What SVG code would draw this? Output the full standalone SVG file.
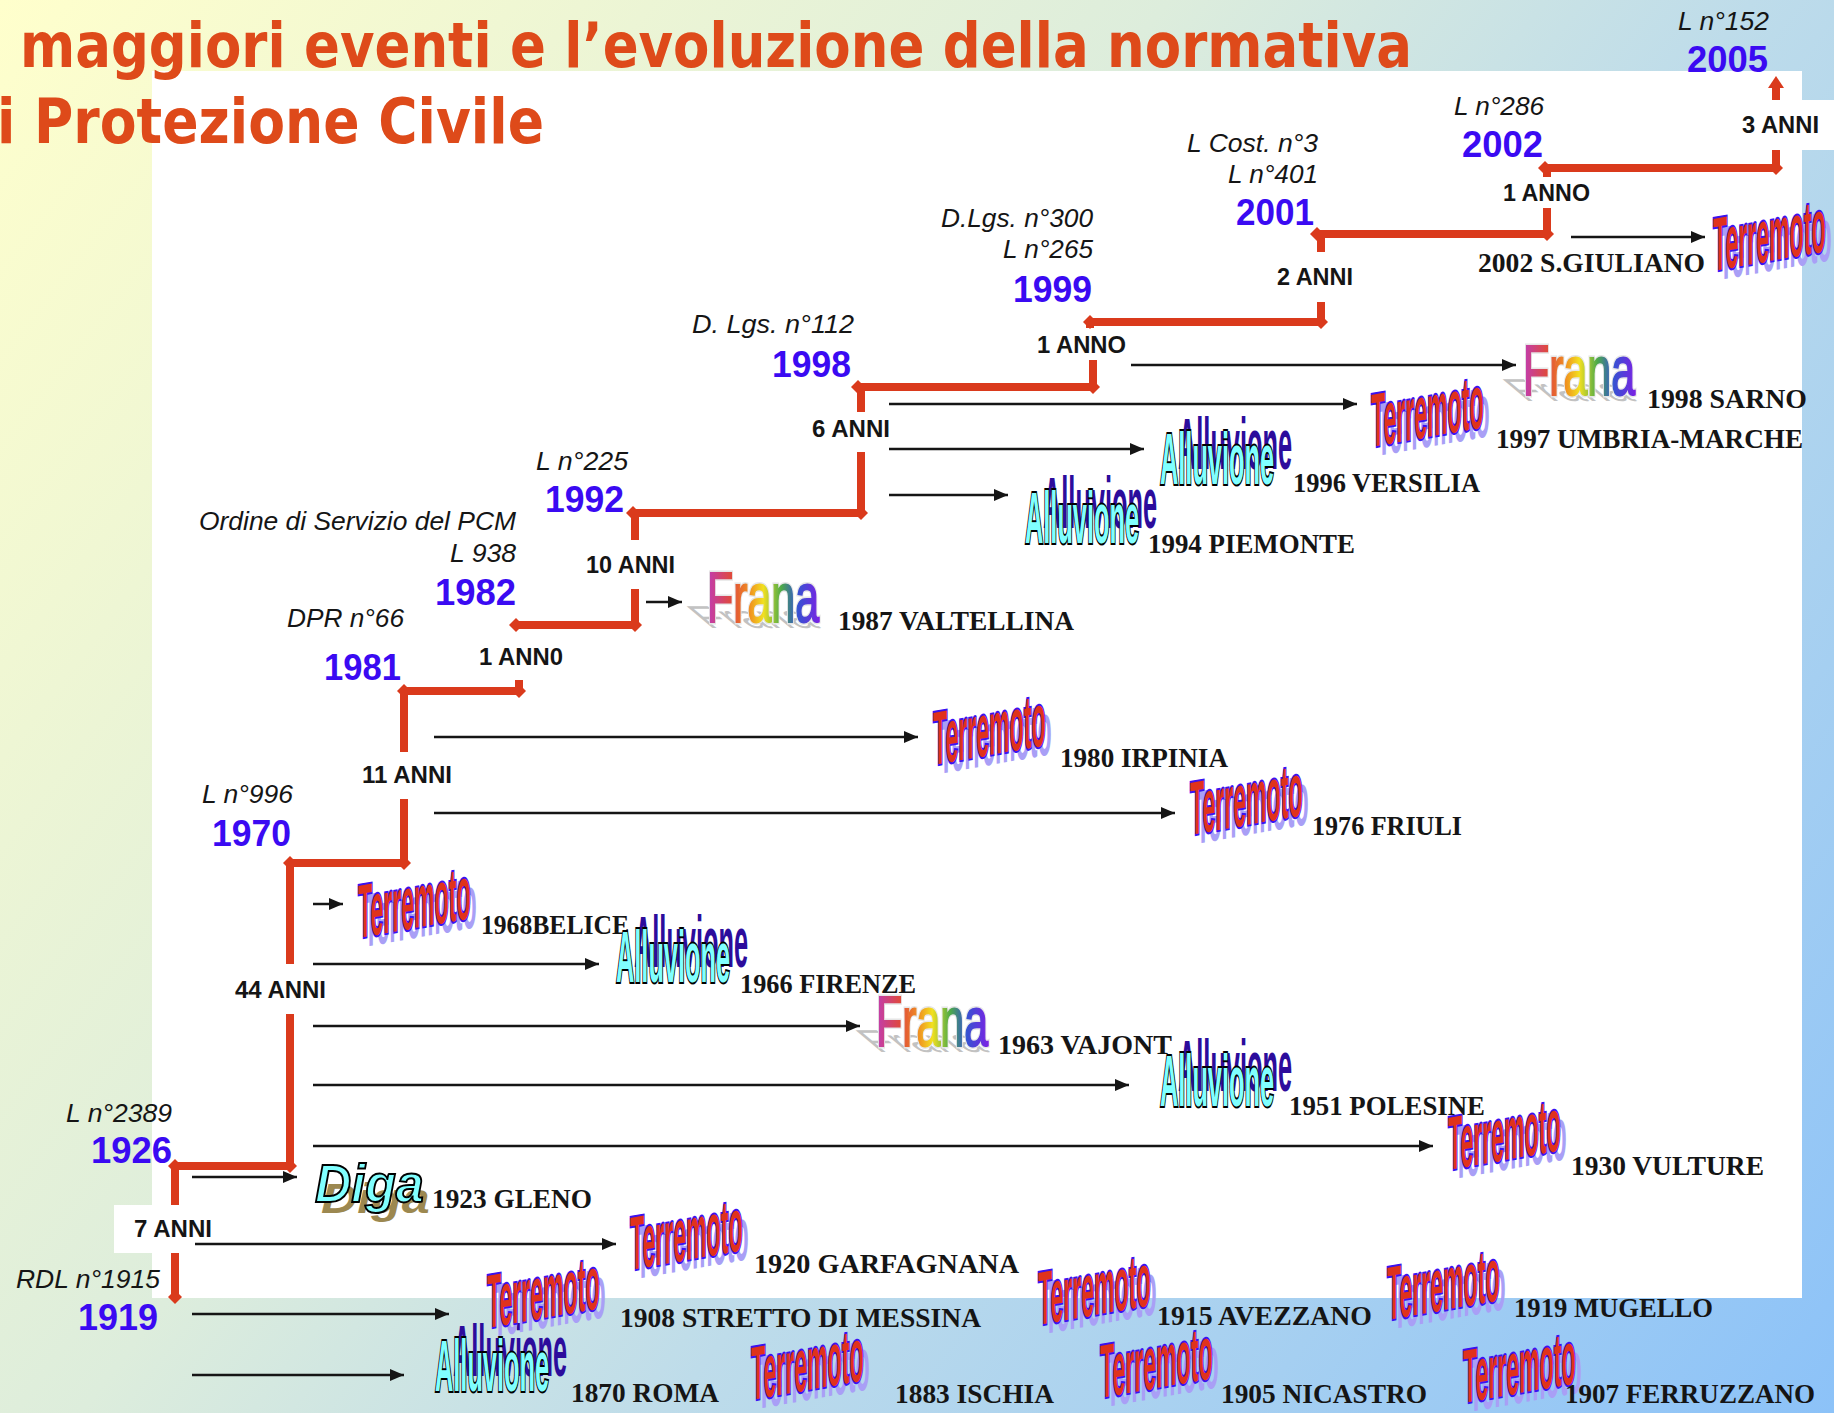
<svg xmlns="http://www.w3.org/2000/svg" width="1834" height="1413" viewBox="0 0 1834 1413">
<style>
.ttl{font-family:"DejaVu Sans",Verdana,sans-serif;font-weight:bold;font-size:62px;fill:#DE4A1A}
.yr{font-family:"Liberation Sans",Arial,sans-serif;font-weight:bold;font-size:36px;fill:#3A0AF2}
.law{font-family:"Liberation Sans",Arial,sans-serif;font-style:italic;font-size:26px;fill:#151515}
.gap{font-family:"Liberation Sans",Arial,sans-serif;font-weight:bold;font-size:23px;fill:#151515}
.ev{font-family:"Liberation Serif","Times New Roman",serif;font-weight:bold;font-size:27px;fill:#151515}
.st{fill:none;stroke:#DA3A1C;stroke-width:8}
.sh{marker-start:url(#dm);marker-end:url(#dm)}
.ar{fill:none;stroke:#151515;stroke-width:2.5;marker-end:url(#ah)}
.wa{font-family:"Liberation Sans",Arial,sans-serif;font-weight:bold;font-size:70px}
.wt{fill:#E0321C;stroke:#3A12F2;stroke-width:3;paint-order:stroke;vector-effect:non-scaling-stroke}
.al{font-family:"Liberation Sans",Arial,sans-serif;font-weight:bold;font-size:72px}
.wl{fill:#80FFFF;stroke:#000;stroke-width:3;paint-order:stroke;vector-effect:non-scaling-stroke}
.fr{font-family:"Liberation Sans",Arial,sans-serif;font-size:70px}
.fo{fill:none;stroke:#E6E6E6;stroke-width:4;vector-effect:non-scaling-stroke}
.fg{fill:url(#rainbow);stroke:url(#rainbow);stroke-width:1.6;vector-effect:non-scaling-stroke}
.dg{font-family:"Liberation Sans",Arial,sans-serif;font-weight:bold;font-style:italic;font-size:54px}
</style>
<defs>
<linearGradient id="bg" gradientUnits="userSpaceOnUse" x1="0" y1="0" x2="1834" y2="1413">
<stop offset="0" stop-color="#FFFFCC"/>
<stop offset="0.4" stop-color="#DDEDDC"/>
<stop offset="0.6" stop-color="#BEDCEA"/>
<stop offset="1" stop-color="#8CC2F8"/>
</linearGradient>
<linearGradient id="rainbow" x1="0" y1="0" x2="1" y2="0">
<stop offset="0" stop-color="#C03CB4"/>
<stop offset="0.22" stop-color="#E04A3A"/>
<stop offset="0.38" stop-color="#F09020"/>
<stop offset="0.5" stop-color="#F2E020"/>
<stop offset="0.66" stop-color="#4CAA48"/>
<stop offset="0.8" stop-color="#3454D0"/>
<stop offset="1" stop-color="#7A22E4"/>
</linearGradient>
<marker id="dm" viewBox="-8 -8 16 16" refX="0" refY="0" markerWidth="16" markerHeight="16" markerUnits="userSpaceOnUse" orient="auto">
<path d="M-7,0 L0,-7 L7,0 L0,7 z" fill="#DA3A1C"/>
</marker>
<marker id="ah" viewBox="0 0 14 12" refX="14" refY="6" markerWidth="14" markerHeight="12" markerUnits="userSpaceOnUse" orient="auto">
<path d="M0,0 L14,6 L0,12 z" fill="#151515"/>
</marker>
<g id="terr" transform="skewY(-10)">
<text class="wa" transform="translate(6,10) scale(0.33,1.08)" fill="#A99FF6">Terremoto</text>
<text class="wa wt" transform="scale(0.33,1.08)">Terremoto</text>
</g>
<g id="allu">
<text class="al" transform="translate(18,-15) scale(0.352,1)" fill="#2C0C9C">Alluvione</text>
<text class="al wl" transform="scale(0.352,1)">Alluvione</text>
</g>
<g id="frana">
<text class="fr" transform="translate(2,6) skewX(50) scale(0.613,0.45)" fill="#C2C2C2">Frana</text>
<text class="fr fo" transform="scale(0.613,1)">Frana</text>
<text class="fr fg" transform="scale(0.613,1)">Frana</text>
</g>
<g id="diga">
<text class="dg" transform="translate(6,11) scale(0.93,0.8)" fill="#9C8850">Diga</text>
<text class="dg" transform="scale(0.93,1)" fill="#80FFFF" stroke="#000" stroke-width="2">Diga</text>
</g>
</defs>

<g id="background">
<rect x="0" y="0" width="1834" height="1413" fill="url(#bg)"/>
<rect x="152" y="71" width="1650" height="1227" fill="#FFFFFF"/>
<rect x="1760" y="100" width="74" height="50" fill="#FFFFFF"/>
<rect x="114" y="1205" width="60" height="48" fill="#FFFFFF"/>
</g>

<g id="title">
<text class="ttl" x="20" y="67" textLength="1392" lengthAdjust="spacingAndGlyphs">maggiori eventi e l’evoluzione della normativa</text>
<text class="ttl" x="-3" y="143" textLength="547" lengthAdjust="spacingAndGlyphs">i Protezione Civile</text>
</g>

<g id="timeline">
<path class="st sh" d="M175,1166 H290"/>
<path class="st" d="M175,1166 V1205"/>
<path class="st" d="M175,1253 V1297" marker-end="url(#dm)"/>
<path class="st" d="M290,1166 V1014 M290,964 V863"/>
<path class="st sh" d="M290,863 H404"/>
<path class="st" d="M404,863 V799 M404,752 V691"/>
<path class="st sh" d="M404,691 H519"/>
<path class="st" d="M519,691 V680"/>
<path class="st sh" d="M516,625 H635"/>
<path class="st" d="M635,625 V589 M635,540 V513"/>
<path class="st sh" d="M633,513 H861"/>
<path class="st" d="M861,513 V452 M861,412 V387"/>
<path class="st sh" d="M858,387 H1093"/>
<path class="st" d="M1093,387 V360 M1090,328 V322"/>
<path class="st sh" d="M1090,322 H1321"/>
<path class="st" d="M1321,322 V302 M1321,252 V234"/>
<path class="st sh" d="M1317,234 H1547"/>
<path class="st" d="M1547,234 V208 M1547,177 V168"/>
<path class="st sh" d="M1545,168 H1776"/>
<path class="st" d="M1776,168 V150 M1776,100 V85"/>
<path d="M1768,88 L1776,76 L1784,88 z" fill="#DA3A1C"/>
</g>

<g id="intervals">
<text class="gap" x="134" y="1237" textLength="78" lengthAdjust="spacingAndGlyphs">7 ANNI</text>
<text class="gap" x="235" y="998" textLength="91" lengthAdjust="spacingAndGlyphs">44 ANNI</text>
<text class="gap" x="362" y="783" textLength="90" lengthAdjust="spacingAndGlyphs">11 ANNI</text>
<text class="gap" x="479" y="665" textLength="84" lengthAdjust="spacingAndGlyphs">1 ANN0</text>
<text class="gap" x="586" y="573" textLength="89" lengthAdjust="spacingAndGlyphs">10 ANNI</text>
<text class="gap" x="812" y="437" textLength="78" lengthAdjust="spacingAndGlyphs">6 ANNI</text>
<text class="gap" x="1037" y="353" textLength="89" lengthAdjust="spacingAndGlyphs">1 ANNO</text>
<text class="gap" x="1277" y="285" textLength="76" lengthAdjust="spacingAndGlyphs">2 ANNI</text>
<text class="gap" x="1503" y="201" textLength="87" lengthAdjust="spacingAndGlyphs">1 ANNO</text>
<text class="gap" x="1742" y="133" textLength="77" lengthAdjust="spacingAndGlyphs">3 ANNI</text>
</g>

<g id="law-1919"><text class="law" x="16" y="1288" textLength="144" lengthAdjust="spacingAndGlyphs">RDL n°1915</text><text class="yr" x="78" y="1330" textLength="80" lengthAdjust="spacingAndGlyphs">1919</text></g>
<g id="law-1926"><text class="law" x="66" y="1122" textLength="106" lengthAdjust="spacingAndGlyphs">L n°2389</text><text class="yr" x="91" y="1163" textLength="81" lengthAdjust="spacingAndGlyphs">1926</text></g>
<g id="law-1970"><text class="law" x="202" y="803" textLength="91" lengthAdjust="spacingAndGlyphs">L n°996</text><text class="yr" x="212" y="846" textLength="79" lengthAdjust="spacingAndGlyphs">1970</text></g>
<g id="law-1981"><text class="law" x="287" y="627" textLength="117" lengthAdjust="spacingAndGlyphs">DPR n°66</text><text class="yr" x="324" y="680" textLength="77" lengthAdjust="spacingAndGlyphs">1981</text></g>
<g id="law-1982"><text class="law" x="199" y="530" textLength="317" lengthAdjust="spacingAndGlyphs">Ordine di Servizio del PCM</text><text class="law" x="450" y="562" textLength="66" lengthAdjust="spacingAndGlyphs">L 938</text><text class="yr" x="435" y="605" textLength="81" lengthAdjust="spacingAndGlyphs">1982</text></g>
<g id="law-1992"><text class="law" x="536" y="470" textLength="92" lengthAdjust="spacingAndGlyphs">L n°225</text><text class="yr" x="545" y="512" textLength="79" lengthAdjust="spacingAndGlyphs">1992</text></g>
<g id="law-1998"><text class="law" x="692" y="333" textLength="162" lengthAdjust="spacingAndGlyphs">D. Lgs. n°112</text><text class="yr" x="772" y="377" textLength="79" lengthAdjust="spacingAndGlyphs">1998</text></g>
<g id="law-1999"><text class="law" x="941" y="227" textLength="152" lengthAdjust="spacingAndGlyphs">D.Lgs. n°300</text><text class="law" x="1003" y="258" textLength="90" lengthAdjust="spacingAndGlyphs">L n°265</text><text class="yr" x="1013" y="302" textLength="79" lengthAdjust="spacingAndGlyphs">1999</text></g>
<g id="law-2001"><text class="law" x="1187" y="152" textLength="131" lengthAdjust="spacingAndGlyphs">L Cost. n°3</text><text class="law" x="1228" y="183" textLength="90" lengthAdjust="spacingAndGlyphs">L n°401</text><text class="yr" x="1236" y="225" textLength="78" lengthAdjust="spacingAndGlyphs">2001</text></g>
<g id="law-2002"><text class="law" x="1454" y="115" textLength="90" lengthAdjust="spacingAndGlyphs">L n°286</text><text class="yr" x="1462" y="157" textLength="81" lengthAdjust="spacingAndGlyphs">2002</text></g>
<g id="law-2005"><text class="law" x="1678" y="30" textLength="91" lengthAdjust="spacingAndGlyphs">L n°152</text><text class="yr" x="1687" y="72" textLength="81" lengthAdjust="spacingAndGlyphs">2005</text></g>

<g id="connectors">
<path class="ar" d="M1571,237 H1705"/>
<path class="ar" d="M1131,365 H1516"/>
<path class="ar" d="M889,404 H1357"/>
<path class="ar" d="M889,449 H1144"/>
<path class="ar" d="M889,495 H1008"/>
<path class="ar" d="M646,602 H682"/>
<path class="ar" d="M434,737 H918"/>
<path class="ar" d="M434,813 H1175"/>
<path class="ar" d="M313,904 H343"/>
<path class="ar" d="M313,964 H599"/>
<path class="ar" d="M313,1026 H860"/>
<path class="ar" d="M313,1085 H1129"/>
<path class="ar" d="M313,1146 H1433"/>
<path class="ar" d="M192,1177 H297"/>
<path class="ar" d="M195,1244 H616"/>
<path class="ar" d="M192,1314 H449"/>
<path class="ar" d="M192,1375 H404"/>
</g>

<g id="ev-2002-sgiuliano"><use href="#terr" transform="translate(1713,271)"/><text class="ev" x="1478" y="272" textLength="227" lengthAdjust="spacingAndGlyphs">2002 S.GIULIANO</text></g>
<g id="ev-1998-sarno"><use href="#frana" transform="translate(1523,395)"/><text class="ev" x="1647" y="408" textLength="160" lengthAdjust="spacingAndGlyphs">1998 SARNO</text></g>
<g id="ev-1997-umbria"><use href="#terr" transform="translate(1371,447)"/><text class="ev" x="1496" y="448" textLength="307" lengthAdjust="spacingAndGlyphs">1997 UMBRIA-MARCHE</text></g>
<g id="ev-1996-versilia"><use href="#allu" transform="translate(1160,484)"/><text class="ev" x="1293" y="492" textLength="187" lengthAdjust="spacingAndGlyphs">1996 VERSILIA</text></g>
<g id="ev-1994-piemonte"><use href="#allu" transform="translate(1025,543)"/><text class="ev" x="1148" y="553" textLength="207" lengthAdjust="spacingAndGlyphs">1994 PIEMONTE</text></g>
<g id="ev-1987-valtellina"><use href="#frana" transform="translate(707,622)"/><text class="ev" x="838" y="630" textLength="236" lengthAdjust="spacingAndGlyphs">1987 VALTELLINA</text></g>
<g id="ev-1980-irpinia"><use href="#terr" transform="translate(933,765)"/><text class="ev" x="1060" y="767" textLength="168" lengthAdjust="spacingAndGlyphs">1980 IRPINIA</text></g>
<g id="ev-1976-friuli"><use href="#terr" transform="translate(1190,835)"/><text class="ev" x="1312" y="835" textLength="150" lengthAdjust="spacingAndGlyphs">1976 FRIULI</text></g>
<g id="ev-1968-belice"><use href="#terr" transform="translate(358,938)"/><text class="ev" x="481" y="934" textLength="148" lengthAdjust="spacingAndGlyphs">1968BELICE</text></g>
<g id="ev-1966-firenze"><use href="#allu" transform="translate(616,982)"/><text class="ev" x="740" y="993" textLength="176" lengthAdjust="spacingAndGlyphs">1966 FIRENZE</text></g>
<g id="ev-1963-vajont"><use href="#frana" transform="translate(876,1046)"/><text class="ev" x="998" y="1054" textLength="174" lengthAdjust="spacingAndGlyphs">1963 VAJONT</text></g>
<g id="ev-1951-polesine"><use href="#allu" transform="translate(1160,1106)"/><text class="ev" x="1289" y="1115" textLength="196" lengthAdjust="spacingAndGlyphs">1951 POLESINE</text></g>
<g id="ev-1930-vulture"><use href="#terr" transform="translate(1448,1170)"/><text class="ev" x="1571" y="1175" textLength="193" lengthAdjust="spacingAndGlyphs">1930 VULTURE</text></g>
<g id="ev-1923-gleno"><use href="#diga" transform="translate(315,1202)"/><text class="ev" x="432" y="1208" textLength="160" lengthAdjust="spacingAndGlyphs">1923 GLENO</text></g>
<g id="ev-1920-garfagnana"><use href="#terr" transform="translate(630,1270)"/><text class="ev" x="754" y="1273" textLength="265" lengthAdjust="spacingAndGlyphs">1920 GARFAGNANA</text></g>
<g id="ev-1870-roma"><use href="#allu" transform="translate(435,1391)"/><text class="ev" x="571" y="1402" textLength="148" lengthAdjust="spacingAndGlyphs">1870 ROMA</text></g>
<g id="ev-1908-messina"><use href="#terr" transform="translate(487,1328)"/><text class="ev" x="620" y="1327" textLength="361" lengthAdjust="spacingAndGlyphs">1908 STRETTO DI MESSINA</text></g>
<g id="ev-1883-ischia"><use href="#terr" transform="translate(751,1400)"/><text class="ev" x="895" y="1403" textLength="159" lengthAdjust="spacingAndGlyphs">1883 ISCHIA</text></g>
<g id="ev-1915-avezzano"><use href="#terr" transform="translate(1038,1325)"/><text class="ev" x="1157" y="1325" textLength="215" lengthAdjust="spacingAndGlyphs">1915 AVEZZANO</text></g>
<g id="ev-1905-nicastro"><use href="#terr" transform="translate(1100,1398)"/><text class="ev" x="1221" y="1403" textLength="206" lengthAdjust="spacingAndGlyphs">1905 NICASTRO</text></g>
<g id="ev-1919-mugello"><use href="#terr" transform="translate(1387,1320)"/><text class="ev" x="1514" y="1317" textLength="199" lengthAdjust="spacingAndGlyphs">1919 MUGELLO</text></g>
<g id="ev-1907-ferruzzano"><use href="#terr" transform="translate(1463,1403)"/><text class="ev" x="1565" y="1403" textLength="250" lengthAdjust="spacingAndGlyphs">1907 FERRUZZANO</text></g>
</svg>
